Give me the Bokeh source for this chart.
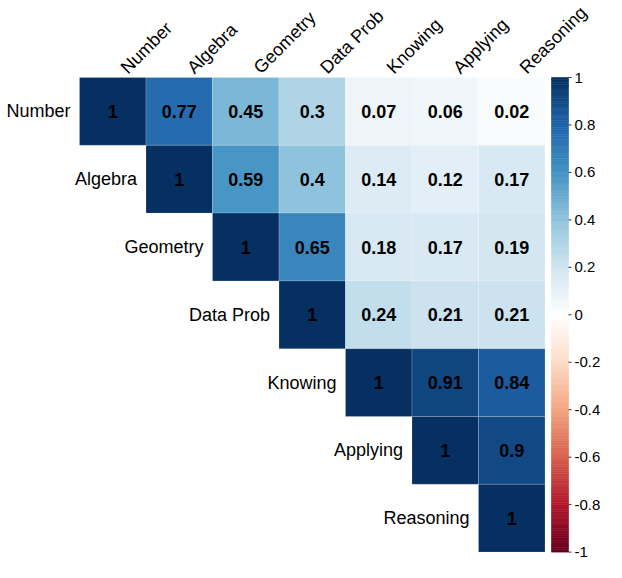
import numpy as np
from bokeh.plotting import figure
from bokeh.models import ColumnDataSource, LinearColorMapper, Range1d
from bokeh.core.properties import value
from bokeh.transform import transform
from bokeh.embed import file_html
from bokeh.resources import INLINE

# ---------------- data ----------------
variables = ["Number", "Algebra", "Geometry", "Data Prob", "Knowing", "Applying", "Reasoning"]
# upper triangle of the correlation matrix, each row starting at the diagonal
row_number = [1, 0.77, 0.45, 0.30, 0.07, 0.06, 0.02]
row_algebra = [1, 0.59, 0.40, 0.14, 0.12, 0.17]
row_geometry = [1, 0.65, 0.18, 0.17, 0.19]
row_dataprob = [1, 0.24, 0.21, 0.21]
row_knowing = [1, 0.91, 0.84]
row_applying = [1, 0.90]
row_reasoning = [1]
colorbar_ticks = [-1, -0.8, -0.6, -0.4, -0.2, 0, 0.2, 0.4, 0.6, 0.8, 1]
colorbar_labels = ["-1", "-0.8", "-0.6", "-0.4", "-0.2", "0", "0.2", "0.4", "0.6", "0.8", "1"]

# RdBu ramp (corrplot COL2)
anchors = ["#67001F", "#B2182B", "#D6604D", "#F4A582", "#FDDBC7", "#FFFFFF",
           "#D1E5F0", "#92C5DE", "#4393C3", "#2166AC", "#053061"]


def hex2rgb(h):
    return np.array([int(h[i:i + 2], 16) for i in (1, 3, 5)], dtype=float)


def ramp(cols, n):
    rgb = np.array([hex2rgb(c) for c in cols])
    pos = np.linspace(0, 1, len(cols))
    t = np.linspace(0, 1, n)
    out = []
    for k in t:
        r = np.interp(k, pos, rgb[:, 0])
        g = np.interp(k, pos, rgb[:, 1])
        b = np.interp(k, pos, rgb[:, 2])
        out.append("#%02x%02x%02x" % (int(round(r)), int(round(g)), int(round(b))))
    return out


palette = ramp(anchors, 200)
mapper = LinearColorMapper(palette=palette, low=-1, high=1)

rows = [row_number, row_algebra, row_geometry, row_dataprob, row_knowing, row_applying, row_reasoning]
xs, ys, vals, labs = [], [], [], []
for i, row in enumerate(rows):
    for k, v in enumerate(row):
        j = i + k
        xs.append(j + 0.5)
        ys.append(-i - 0.5)
        vals.append(v)
        labs.append(f"{v:g}")
cells = ColumnDataSource(dict(x=xs, y=ys, r=vals, lab=labs))

# ---------------- layout (pixels -> data units) ----------------
W, H = 606, 562
CELL_W = 66.5
CELL_H = 67.8
X0 = 79   # left edge of the matrix, px inside the figure
Y0 = 77   # top edge of the matrix, px inside the figure

px_x = lambda px: (px - X0) / CELL_W

p = figure(width=W, height=H, output_backend="svg", toolbar_location=None,
           x_range=Range1d(-X0 / CELL_W, (W - X0) / CELL_W),
           y_range=Range1d(-(H - Y0) / CELL_H, Y0 / CELL_H),
           min_border=0, outline_line_color=None)
p.axis.visible = False
p.grid.visible = False
p.background_fill_color = "white"
p.border_fill_color = "white"

FONT = value("Liberation Sans")

p.rect(x="x", y="y", width=1, height=1, source=cells,
       fill_color=transform("r", mapper), line_color="white", line_width=0.6, line_alpha=0.3)
p.text(x="x", y="y", text="lab", source=cells, text_align="center", text_baseline="middle",
       text_font=FONT, text_font_size="18px", text_font_style="bold", text_color="black")

# row labels (left of the diagonal)
n = len(variables)
rl = ColumnDataSource(dict(x=[float(i) for i in range(n)], y=[-i - 0.5 for i in range(n)], t=variables))
p.text(x="x", y="y", text="t", source=rl, text_align="right", text_baseline="middle",
       x_offset=-9, text_font=FONT, text_font_size="18px", text_color="black")

# column labels (rotated, above the top)
cl = ColumnDataSource(dict(x=[i + 0.5 + 11 / CELL_W for i in range(n)], y=[7 / CELL_H] * n, t=variables))
p.text(x="x", y="y", text="t", source=cl, text_align="left", text_baseline="alphabetic",
       angle=np.pi / 4, text_font=FONT, text_font_size="18px", text_color="black")

# colour bar
bar_left = px_x(551)
bar_right = px_x(568)
edges = np.linspace(-1, 1, len(palette) + 1)
to_y = lambda v: (np.asarray(v) - 1) / 2 * n
p.quad(left=bar_left, right=bar_right, bottom=to_y(edges[:-1]), top=to_y(edges[1:]),
       fill_color=palette, line_color=palette, line_width=0.6)
tick_y = list(to_y(colorbar_ticks))
p.segment(x0=bar_right, x1=px_x(571), y0=tick_y, y1=tick_y,
          line_color="#333333", line_width=1)
p.text(x=px_x(574), y=tick_y, text=colorbar_labels, text_align="left",
       text_baseline="middle", text_font=FONT, text_font_size="15px", text_color="black")

open("out.html", "w").write(file_html(p, INLINE))
